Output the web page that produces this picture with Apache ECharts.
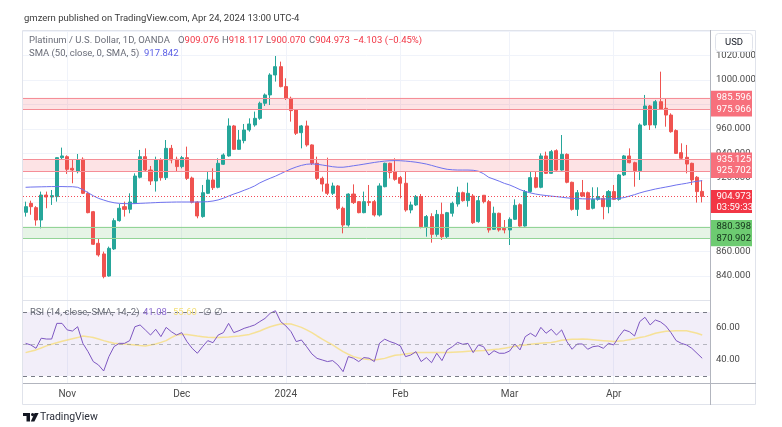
<!DOCTYPE html>
<html><head><meta charset="utf-8">
<script src="https://cdn.jsdelivr.net/npm/echarts@6/dist/echarts.min.js"></script>
<style>html,body{margin:0;padding:0;background:#fff}#c{width:782px;height:427px}</style>
</head><body><div id="c"></div>
<script>
// ---- data ----
const opens = [
892.0,899.3,895.8,885.7,906.1,904.5,904.8,936.6,937.4,927.9,
925.2,935.3,907.5,892.5,866.7,858.0,840.0,862.1,885.2,896.6,
894.5,899.3,920.6,937.4,926.5,917.6,934.7,920.3,944.2,935.3,
929.3,936.6,920.0,900.4,888.5,907.5,918.4,912.4,931.2,938.0,
962.5,943.4,950.5,959.2,963.3,968.7,981.0,987.8,1004.1,1010.9,
994.6,985.0,975.5,957.0,962.5,947.0,932.0,919.7,915.1,907.5,
913.5,895.3,881.6,906.9,900.7,891.7,900.7,900.7,889.8,912.9,
932.0,925.2,920.3,915.7,893.9,898.0,904.8,880.3,888.5,874.0,
890.3,872.1,891.2,898.8,908.0,901.5,905.3,884.4,905.9,900.7,
878.1,891.2,878.9,877.6,886.3,898.2,880.8,908.9,920.3,912.4,
938.0,923.8,942.3,926.5,939.3,916.5,894.4,908.0,908.0,895.3,
902.6,903.4,896.6,908.9,902.6,922.5,938.0,932.5,926.0,963.3,
978.8,963.3,982.3,976.9,971.4,958.7,940.7,936.9,932.0,920.6,909.076];
const closes = [
896.6,896.6,885.7,906.1,904.5,905.6,936.6,938.0,927.1,926.5,
934.7,907.5,891.7,865.9,857.2,839.5,862.6,885.2,895.3,894.4,
900.4,921.6,937.4,926.5,917.6,934.7,920.3,944.2,934.7,929.3,
936.6,919.7,900.2,889.0,908.0,918.4,912.1,932.0,938.8,962.5,
943.4,951.0,959.2,964.1,968.7,981.0,987.8,1004.1,1010.9,994.6,
985.0,975.0,956.5,962.5,947.0,932.0,919.7,915.1,907.5,913.5,
895.3,881.6,906.9,899.9,891.7,900.7,899.9,889.8,913.5,932.0,
924.4,918.9,915.7,893.9,898.0,904.8,880.3,888.5,874.0,890.3,
872.1,891.7,899.3,908.0,901.5,907.5,883.5,901.5,900.7,877.6,
891.2,877.6,877.6,886.3,897.7,880.8,908.9,920.3,912.4,938.0,
923.8,941.5,926.5,939.3,916.5,894.4,908.0,905.3,894.4,902.6,
904.8,896.6,908.9,902.6,922.5,938.0,932.5,926.0,963.3,978.8,
963.3,982.3,976.1,971.4,957.8,940.1,936.1,931.4,918.4,908.9,904.973];
const lows = [
888.5,890.0,881.1,878.9,895.3,898.0,900.7,934.7,923.3,915.7,
923.8,906.9,891.2,865.3,855.8,838.1,839.5,861.2,884.4,888.5,
891.2,898.8,919.7,925.2,914.3,908.9,917.8,918.4,932.0,925.2,
927.9,918.4,899.3,887.1,887.6,906.9,910.2,911.6,930.6,937.4,
942.9,942.9,948.3,957.8,961.9,967.5,978.8,979.6,998.7,994.0,
983.7,966.0,955.1,944.2,945.6,930.6,918.4,908.9,906.1,906.1,
893.9,874.8,880.3,898.8,891.2,891.2,897.2,888.5,888.5,912.4,
919.7,917.8,903.4,892.5,891.2,897.2,878.9,872.1,867.2,872.1,
869.4,870.8,888.5,896.6,900.7,896.6,882.5,883.5,899.3,875.4,
877.6,876.2,874.8,865.3,885.7,880.3,880.3,908.0,911.6,911.6,
923.3,923.3,926.0,926.0,915.7,893.4,889.0,904.8,893.9,894.4,
901.5,886.3,891.2,902.1,901.5,921.6,932.0,912.9,918.4,962.5,
959.2,960.6,975.5,961.9,957.0,939.6,934.7,923.8,914.3,899.9,900.070];
const highs = [
900.7,901.5,897.0,908.9,908.9,910.2,936.9,944.8,938.5,934.7,
939.6,936.9,908.9,893.1,870.8,859.9,864.0,887.1,898.8,900.7,
907.5,923.8,942.9,944.2,929.8,937.4,936.1,951.0,947.0,937.4,
938.0,945.6,921.1,901.0,914.3,925.7,927.9,936.1,940.1,968.7,
963.3,959.2,964.1,968.7,974.2,982.3,989.0,1005.5,1019.6,1015.0,
1001.4,986.4,976.1,963.3,966.8,947.5,937.4,921.1,936.6,916.2,
914.3,896.6,907.5,914.8,901.0,908.9,914.3,902.1,915.7,932.5,
932.5,936.1,921.6,925.2,900.7,906.1,906.9,889.8,891.2,893.9,
899.9,892.3,900.7,912.9,908.9,916.2,906.9,905.3,906.1,902.1,
896.6,891.7,885.7,887.9,902.6,899.3,910.2,925.2,925.2,940.1,
941.5,942.9,943.4,955.1,940.1,917.0,910.2,918.4,908.9,912.4,
912.4,906.1,910.2,914.3,923.3,938.8,944.2,933.3,964.6,987.8,
979.6,983.7,1006.8,985.0,972.8,959.7,948.3,947.0,932.5,921.6,918.117];
const sma50 = [
912.4,912.6,912.7,912.8,912.9,913.0,913.0,913.0,912.9,912.9,
912.4,910.5,908.0,905.5,903.4,902.0,900.7,899.8,899.3,899.1,
899.0,899.1,899.3,899.5,899.7,899.9,900.1,900.2,900.3,900.4,
900.4,900.4,900.4,900.4,900.5,900.7,901.2,902.1,903.5,905.2,
906.9,908.3,910.0,911.6,913.5,916.0,918.0,919.8,921.5,923.5,
925.5,927.4,929.0,930.3,931.2,931.5,931.2,930.6,929.9,929.2,
928.8,928.8,929.3,930.0,930.6,931.3,932.0,932.7,933.3,933.8,
934.1,934.2,934.1,933.8,933.4,932.9,932.2,931.4,930.3,929.1,
928.0,927.1,926.7,926.5,926.5,926.5,926.3,925.5,923.5,920.5,
919.0,917.4,915.6,914.3,912.5,910.5,909.0,907.8,906.9,906.2,
905.7,905.2,904.8,904.3,903.8,903.4,903.2,903.0,902.9,902.9,
902.9,902.9,902.9,903.0,903.4,904.0,905.2,906.4,907.8,909.0,
910.0,911.0,911.8,912.6,913.4,914.3,915.0,915.7,916.6,917.3,917.842];
const rsi = [
50.4,49.4,47.3,53.6,53.1,53.1,62.9,62.9,58.8,58.1,
60.8,50.4,45.2,39.0,36.9,33.1,42.1,48.4,50.4,50.4,
52.1,60.8,61.9,58.8,55.6,59.2,54.6,60.4,57.7,55.6,
57.1,51.5,47.3,44.2,48.3,52.1,50.8,55.6,57.1,62.9,
57.1,58.3,59.8,60.8,61.9,64.0,66.0,69.2,70.8,64.0,
61.3,57.7,51.5,52.5,48.3,43.8,41.0,40.0,39.0,39.6,
36.9,32.7,42.1,41.1,39.0,41.5,41.1,39.0,50.5,53.0,
51.5,50.4,48.8,42.1,43.1,45.2,39.0,41.5,38.3,44.2,
39.6,46.3,48.3,51.0,49.8,50.4,44.6,49.4,48.3,43.1,
45.8,44.2,44.2,45.6,50.0,46.3,54.6,56.7,54.6,60.4,
56.7,59.2,55.6,58.8,51.5,46.7,50.0,50.0,46.7,48.3,
48.8,47.3,50.4,49.4,54.6,58.8,57.7,55.0,64.0,66.7,
61.9,65.0,63.8,61.3,57.1,52.1,50.4,49.4,47.3,44.2,41.08];
const rsiMa = [
44.6,45.4,46.3,47.5,48.8,49.8,50.8,51.7,52.5,53.3,
54.0,55.0,54.6,54.0,53.1,52.1,51.2,50.4,50.2,50.0,
49.7,49.4,49.0,48.8,49.3,50.0,51.0,52.1,54.0,55.6,
55.9,56.0,55.5,55.0,54.6,54.2,54.1,54.0,54.2,54.4,
54.7,55.0,55.5,56.0,57.0,58.1,59.5,60.8,61.7,62.5,
62.6,62.5,61.5,60.4,58.8,57.1,55.0,53.0,51.2,49.4,
47.3,45.2,43.6,42.1,41.3,40.6,40.3,40.0,40.4,41.0,
42.0,42.9,43.3,43.8,44.2,44.6,44.6,44.6,44.6,44.6,
44.6,44.6,44.8,45.0,45.2,45.4,45.6,45.8,46.0,46.3,
46.6,46.9,47.4,47.9,48.5,49.0,49.4,49.8,50.1,50.4,
50.7,51.0,51.6,52.3,52.6,52.9,53.0,53.1,52.9,52.7,
52.4,52.1,51.8,51.5,51.8,52.1,52.7,53.3,54.0,54.6,
55.6,56.7,57.3,57.9,58.1,58.3,58.3,58.3,57.5,56.7,55.6];
const resistZones = [[975.966, 985.596], [925.702, 935.125]];
const supportZones = [[870.902, 880.398]];
const lastPrice = 904.973;
const priceTicks = [840, 860, 880, 900, 920, 940, 960, 980, 1000, 1020];
const rsiTicks = [40, 60];
const monthNames = ['2024','Feb','Mar','Apr','May','Jun','Jul','Aug','Sep','Oct','Nov','Dec'];

// trading-day categories (weekdays, Oct 20 2023 .. Apr 25 2024, minus market holidays)
const holidays = ['2023-12-25','2024-01-01','2024-03-29'];
const dates = [];
for (let t = Date.UTC(2023,9,20); t <= Date.UTC(2024,3,25); t += 86400000) {
  const d = new Date(t), wd = d.getUTCDay();
  const s = d.toISOString().slice(0,10);
  if (wd === 0 || wd === 6 || holidays.includes(s)) continue;
  dates.push(s);
}
const monthStart = new Set();
for (let i = 1; i < dates.length; i++) if (dates[i].slice(5,7) !== dates[i-1].slice(5,7)) monthStart.add(i);
const isMonth = (i) => monthStart.has(i);
const labelOf = (v) => monthNames[parseInt(v.slice(5,7),10)-1];

const ohlc = opens.map((o,i) => [o, closes[i], lows[i], highs[i]]);
const FONT = 'Roboto, "Noto Sans", sans-serif';
const UP = '#26a69a', DOWN = '#ef5350';
const RED_LINE = '#f58e97', GREEN_LINE = '#93d497';

function zoneSeries(zones, lineColor, fill) {
  return {type: 'line', xAxisIndex: 0, yAxisIndex: 0, data: [], color: lineColor, z: 1,
    markArea: {silent: true, itemStyle: {color: fill, borderWidth: 0}, data: zones.map(z => [{yAxis: z[0]}, {yAxis: z[1]}])}};
}

const chart = echarts.init(document.getElementById('c'));
chart.setOption({
  animation: false,
  backgroundColor: '#ffffff',
  grid: [
    {left: 23, right: 72, top: 31, height: 269.5},
    {left: 23, right: 72, top: 300.5, height: 82.5}
  ],
  xAxis: [
    {type: 'category', gridIndex: 0, data: dates,
     axisLine: {show: true, lineStyle: {color: '#e0e3eb'}}, axisTick: {show: false}, axisLabel: {show: false},
     splitLine: {show: true, interval: isMonth, alignWithLabel: true, lineStyle: {color: '#f0f3fa'}}},
    {type: 'category', gridIndex: 1, data: dates,
     axisLine: {show: true, lineStyle: {color: '#b2b5be'}}, axisTick: {show: false},
     axisLabel: {interval: isMonth, formatter: labelOf, color: '#4a4a4a', fontSize: 10, margin: 6, fontFamily: FONT, hideOverlap: false},
     splitLine: {show: true, interval: isMonth, alignWithLabel: true, lineStyle: {color: '#f0f3fa'}}}
  ],
  yAxis: [
    {type: 'value', gridIndex: 0, position: 'right', min: 820, max: 1040, interval: 20,
     axisLine: {show: false}, axisTick: {show: false},
     axisLabel: {customValues: priceTicks, formatter: v => v.toFixed(3), color: '#4a4a4a', fontSize: 9.5, margin: 6, fontFamily: FONT, align: 'left'},
     splitLine: {lineStyle: {color: '#f0f3fa'}}},
    {type: 'value', gridIndex: 1, position: 'right', min: 25.6, max: 77.2,
     axisLine: {show: false}, axisTick: {show: false},
     axisLabel: {customValues: rsiTicks, formatter: v => v.toFixed(2), color: '#4a4a4a', fontSize: 9.5, margin: 6, fontFamily: FONT, align: 'left'},
     splitLine: {show: false}}
  ],
  series: [
    zoneSeries(resistZones, RED_LINE, 'rgba(242,54,69,0.14)'),
    zoneSeries(supportZones, GREEN_LINE, 'rgba(76,175,80,0.14)'),
    {type: 'candlestick', xAxisIndex: 0, yAxisIndex: 0, data: ohlc, barWidth: '68%',
     itemStyle: {color: UP, color0: DOWN, borderColor: UP, borderColor0: DOWN, borderWidth: 1},
     markLine: {silent: true, symbol: ['none','none'], label: {show: false},
       lineStyle: {color: '#f23645', opacity: 0.9, width: 1, type: [1,2]},
       data: [{yAxis: lastPrice}]}},
    {type: 'line', xAxisIndex: 0, yAxisIndex: 0, data: sma50, showSymbol: false, smooth: false,
     lineStyle: {color: '#6f72ee', width: 1}, z: 3},
    {type: 'line', xAxisIndex: 1, yAxisIndex: 1, data: rsi, showSymbol: false,
     lineStyle: {color: '#7e57c2', width: 1}, z: 4,
     markArea: {silent: true, itemStyle: {color: 'rgba(126,87,194,0.1)'}, data: [[{yAxis: 30}, {yAxis: 70}]]},
     markLine: {silent: true, symbol: ['none','none'], label: {show: false},
       lineStyle: {color: '#787b86', width: 1, type: [4,4]},
       data: [
        {yAxis: 70},
        {yAxis: 50, lineStyle: {color: 'rgba(120,123,134,0.5)', width: 1, type: [4,4]}},
        {yAxis: 30}
     ]}},
    {type: 'line', xAxisIndex: 1, yAxisIndex: 1, data: rsiMa, showSymbol: false,
     lineStyle: {color: 'rgba(250,215,70,0.55)', width: 1.5}, z: 3}
  ]
});

// ---- decorations & right-scale price boxes (positions from the chart's own scale) ----
const py = v => chart.convertToPixel({yAxisIndex: 0}, v);
const T = (x, y, text, fill, size) => ({type: 'text', z: 120, style: {
  x: x, y: y, text: text, fill: fill, font: (size||9.5) + 'px ' + FONT, textVerticalAlign: 'middle', verticalAlign: 'middle'}});
const R = (x, y, w, h, fill, stroke) => ({type: 'rect', z: 110, shape: {x: x, y: y, width: w, height: h}, style: {fill: fill, stroke: stroke || null, lineWidth: 1}});
const L = (x1, y1, x2, y2, c, z) => ({type: 'line', z: z || 105, shape: {x1: x1, y1: y1, x2: x2, y2: y2}, style: {stroke: c, lineWidth: 1}});

const g = [];
g.push({type: 'rect', z: 100, shape: {x: 22.5, y: 30.5, width: 733, height: 374}, style: {fill: null, stroke: '#e0e3eb', lineWidth: 1}});
// zone edge lines across the plot, at the zone prices
const gridLeft = chart.convertToPixel({xAxisIndex: 0}, dates[0]) - 2.6, gridRight = 710;
resistZones.flat().forEach(v => { const y = Math.round(py(v)) + 0.5; g.push(L(23, y, gridRight, y, RED_LINE, 50)); });
supportZones.flat().forEach(v => { const y = Math.round(py(v)) + 0.5; g.push(L(23, y, gridRight, y, GREEN_LINE, 50)); });
g.push(L(710.5, 30, 710.5, 405, '#b2b5be'));
g.push(L(710, 383.5, 756, 383.5, '#b2b5be'));
// header
g.push(T(24, 19, 'gmzern published on TradingView.com, Apr 24, 2024 13:00 UTC-4', '#3a3a3a', 9.5));
// legend rows
const rich = {n: {fill: '#6a6d78', font: '9.5px ' + FONT}, r: {fill: '#f23645', font: '9.5px ' + FONT}};
g.push(T(29, 41, 'Platinum / U.S. Dollar, 1D, OANDA', '#6a6d78'));
[['O', opens[130].toFixed(3), 178], ['H', highs[130].toFixed(3), 222], ['L', lows[130].toFixed(3), 266], ['C', closes[130].toFixed(3), 309]]
  .forEach(a => g.push({type: 'text', z: 120, style: {x: a[2], y: 41, text: '{n|' + a[0] + '}{r|' + a[1] + '}', rich: rich, textVerticalAlign: 'middle', verticalAlign: 'middle'}}));
g.push(T(353, 41, '\u22124.103 (\u22120.45%)', '#f23645'));
g.push(T(29, 54, 'SMA (50, close, 0, SMA, 5)', '#6a6d78'));
g.push(T(144, 54, sma50[130].toFixed(3), '#5b5fe6'));
g.push(T(30, 313, 'RSI (14, close, SMA, 14, 2)', '#6a6d78'));
g.push(T(143, 313, rsi[130].toFixed(2), '#8c6bd0'));
g.push(T(173, 313, rsiMa[130].toFixed(2), '#f3df78'));
g.push(T(203, 313, '\u2205', '#6a6d78'));
g.push(T(214, 313, '\u2205', '#6a6d78'));
// USD box
g.push({type: 'rect', z: 110, shape: {x: 715.5, y: 33.5, width: 37, height: 18, r: 3}, style: {fill: '#ffffff', stroke: '#e0e3eb', lineWidth: 1}});
g.push({type: 'text', z: 120, style: {x: 734, y: 42.5, text: 'USD', fill: '#131722', font: '9.5px ' + FONT, textAlign: 'center', align: 'center', textVerticalAlign: 'middle', verticalAlign: 'middle'}});
// zone boxes on the price scale
resistZones.forEach(z => {
  const yTop = py(z[1]) - 7, yBot = py(z[0]) + 7;
  g.push(R(711, yTop, 41, yBot - yTop, '#f7707c'));
  g.push(T(716.5, py(z[1]), z[1].toFixed(3), '#ffffff'));
  g.push(T(716.5, py(z[0]), z[0].toFixed(3), '#ffffff'));
});
supportZones.forEach(z => {
  const yTop = py(z[1]) - 6.5, yBot = py(z[0]) + 8;
  g.push(R(711, yTop, 41, yBot - yTop, '#6dcb71'));
  g.push(T(716.5, py(z[1]), z[1].toFixed(3), '#13321a'));
  g.push(T(716.5, py(z[0]), z[0].toFixed(3), '#13321a'));
});
{
  const y0 = py(lastPrice);
  g.push(R(711, y0 - 6.5, 41, 23, '#f23645'));
  g.push(T(716.5, y0, lastPrice.toFixed(3), '#ffffff'));
  g.push(T(716.5, y0 + 11, '03:59:33', '#ffffff'));
}
// TradingView footer logo
g.push(R(23, 413, 7, 3, '#131722'));
g.push(R(26.5, 413, 3.5, 8.5, '#131722'));
g.push({type: 'circle', z: 110, shape: {cx: 32.6, cy: 414.6, r: 1.6}, style: {fill: '#131722'}});
g.push({type: 'polygon', z: 110, shape: {points: [[34.6, 413], [38.6, 413], [34.4, 421.5], [30.8, 421.5]]}, style: {fill: '#131722'}});
g.push(T(40, 417.5, 'TradingView', '#2a2e39', 10.5));
chart.setOption({graphic: g});
</script>
</body></html>
